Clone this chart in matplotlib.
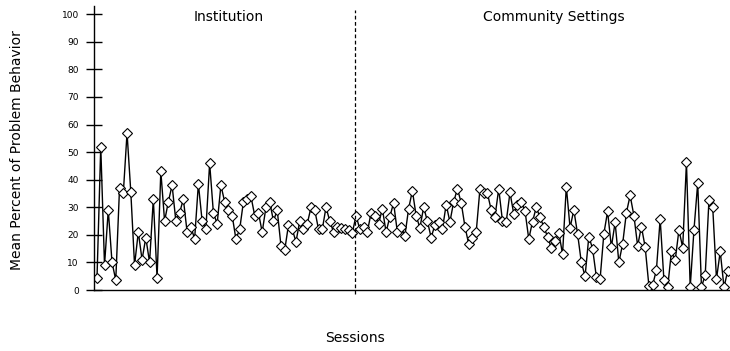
import numpy as np
import matplotlib
matplotlib.use("Agg")
import matplotlib.pyplot as plt

# mean percent of problem behavior per session
institution = [4.4, 52, 9, 29, 10, 3.6, 37, 35, 57, 35.6, 9, 21, 11, 19, 10, 33, 4.4,
               43, 25, 32, 38, 25, 28, 33, 21, 23, 18.5, 38.5, 25, 22, 46, 28, 24, 38,
               32, 29, 27, 18.5, 22, 32, 33, 34, 27, 28, 21, 30, 32, 25, 29, 16, 14.5,
               23.6, 22, 17.5, 25, 22, 24, 30, 29, 22, 22, 30, 25, 21, 23, 22.5, 22,
               21.6, 20.7, 27]
community = [22, 23, 21, 28, 27, 24, 29.5, 21, 26.6, 31.6, 21, 23, 19.6, 29.5, 36, 27,
             22.5, 30, 25, 19, 23.6, 24.5, 22, 31, 24.7, 32, 36.7, 31.7, 23, 16.7, 19,
             21, 36.7, 35, 35, 29, 26.6, 36.7, 25, 24.8, 35.4, 27.6, 31, 32, 28.7, 18.5,
             24.8, 30, 26.3, 23, 19.3, 15.3, 17.6, 20.8, 13, 37.5, 22.6, 29, 20.4, 10,
             5, 19.4, 15, 4.8, 4, 20.4, 28.5, 15.6, 24.5, 10, 16.7, 28, 34.3, 27, 16,
             23, 15.6, 1.5, 1.8, 7.3, 25.8, 3.6, 1, 14, 10.7, 21.8, 15.4, 46.3, 1, 21.8,
             38.8, 1, 5.5, 32.7, 30, 4, 14, 1, 7]
phases = ["Institution", "Community Settings"]
yticks = list(range(0, 101, 10))

values = institution + community
sessions = np.arange(1, len(values) + 1)
n_inst = len(institution)

fig = plt.figure(figsize=(7.3, 3.51), dpi=100)
ax = fig.add_axes([94 / 730, 61 / 351, 636 / 730, 284 / 351])

ax.plot(sessions, values, color="black", linewidth=1, marker="D", markersize=5,
        markerfacecolor="white", markeredgecolor="black", markeredgewidth=0.8)
ax.plot([n_inst - 0.2, n_inst - 0.2], [-1.5, 101.5], color="black", linewidth=0.9,
        linestyle=(0, (3, 2)), clip_on=False)

ax.set_xlim(0.2, len(values) + 0.6)
ax.set_ylim(0, 103)
ax.set_yticks(yticks)
ax.set_yticklabels([str(t) for t in yticks], fontsize=6.5)
ax.tick_params(axis="y", direction="inout", length=12, width=1, pad=5)
ax.set_xticks([])
for s in ["top", "right"]:
    ax.spines[s].set_visible(False)
ax.spines["left"].set_linewidth(1)
ax.spines["bottom"].set_linewidth(1)

ax.text(0.212, 0.961, phases[0], transform=ax.transAxes, ha="center", va="center", fontsize=10)
ax.text(0.723, 0.961, phases[1], transform=ax.transAxes, ha="center", va="center", fontsize=10)

fig.text(17 / 730, 1 - 150 / 351, "Mean Percent of Problem Behavior", rotation=90,
         ha="center", va="center", fontsize=10)
fig.text(355 / 730, 1 - 338 / 351, "Sessions", ha="center", va="center", fontsize=10)

fig.savefig("out.png", dpi=100)
